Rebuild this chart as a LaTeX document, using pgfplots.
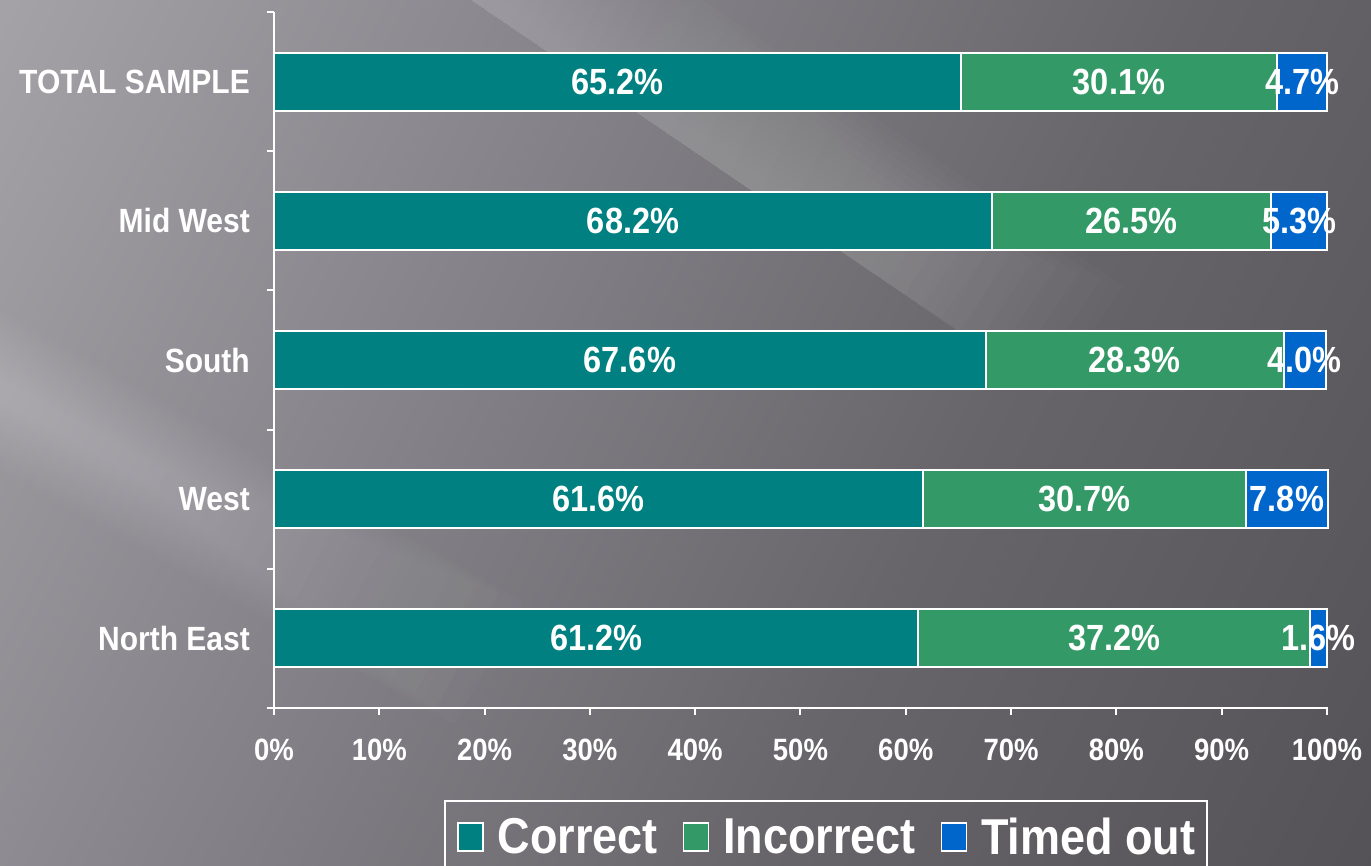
\documentclass[border=0pt]{standalone}
\usepackage{pgfplots}
\pgfplotsset{compat=1.18}
\usepackage{pgfplotstable}
\usepackage{graphicx}
\usepackage{fontspec}
\setmainfont{Liberation Sans}

\definecolor{cCorrect}{HTML}{008080}
\definecolor{cIncorrect}{HTML}{339966}
\definecolor{cTimed}{HTML}{0066CC}
\definecolor{bg0}{HTML}{A5A2A8}
\definecolor{bg1}{HTML}{858389}
\definecolor{bg2}{HTML}{67656A}
\definecolor{bg3}{HTML}{545257}
\pgfdeclarehorizontalshading{bgshade}{100bp}{color(0bp)=(bg0); color(16bp)=(bg0); color(39bp)=(bg1); color(61bp)=(bg2); color(84bp)=(bg3); color(100bp)=(bg3)}

\newcommand\vst[1]{\scalebox{1}[1.12]{#1}}

\pgfplotstableread{
y correct incorrect timed
0 61.2 37.2 1.6
1 61.6 30.7 7.8
2 67.6 28.3 4.0
3 68.2 26.5 5.3
4 65.2 30.1 4.7
}\data

\pgfplotsset{/pgf/number format/assume math mode=true}

\begin{document}
\begin{tikzpicture}
\shade[shading=bgshade, shading angle=-27] (0pt,0pt) rectangle (1371pt,866pt);
\begin{scope}
\clip (0pt,0pt) rectangle (1371pt,866pt);
% light diagonal streak (upper middle)
\begin{scope}[shift={(471pt,866pt)}, rotate=-34.2, x=1pt, y=1pt]
\foreach \k in {0,...,15}{
  \fill[white, fill opacity=0.016] (-300,0) rectangle ({700-22*\k},{130-7.5*\k});
}
\end{scope}
% light diagonal streak (left)
\begin{scope}[shift={(0pt,476pt)}, rotate=-29.2, x=1pt, y=1pt]
\foreach \k in {0,...,15}{
  \fill[white, fill opacity=0.014] (-100,{-(70-4*\k)}) rectangle ({560-25*\k},{70-4*\k});
}
\end{scope}
\end{scope}
\begin{axis}[
  scale only axis, width=1054pt, height=696pt,
  at={(274pt,158pt)}, anchor=south west,
  xbar stacked, bar width=58pt,
  clip=false,
  xmin=0, xmax=100.1, ymin=-0.5, ymax=4.5,
  axis x line*=bottom, axis y line*=left,
  axis line style={white, line width=2pt, -},
  tick align=outside,
  major tick length=7pt,
  tick style={white, line width=2pt},
  xtick={0,10,...,100},
  xticklabel={\vst{\pgfmathprintnumber{\tick}\%}},
  xticklabel style={white, anchor=north, inner sep=0pt, yshift=-24pt, font=\bfseries\fontsize{27.5}{30}\selectfont},
  ytick={-0.5,0.5,...,4.5},
  yticklabels={,,,,,},
  extra y ticks={0,1,2,3,4},
  extra y tick labels={\vst{North East},\vst{West},\vst{South},\vst{Mid West},\vst{TOTAL SAMPLE}},
  extra y tick style={major tick length=0pt},
  yticklabel style={white, anchor=east, inner sep=0pt, xshift=-24pt, font=\bfseries\fontsize{30}{33}\selectfont},
  point meta=explicit,
  nodes near coords={\vst{\pgfmathprintnumber[fixed,fixed zerofill,precision=1,assume math mode=true]{\pgfplotspointmeta}\%}},
  every node near coord/.style={white, font=\bfseries\fontsize{32.5}{35}\selectfont, anchor=center},
  legend columns=3,
  legend style={at={(0.1614,-0.1322)}, anchor=north west, draw=white, line width=2pt, fill=none, text=white,
    font=\bfseries\fontsize{45}{50}\selectfont, inner xsep=12pt, inner ysep=17pt,
    nodes={inner sep=0pt},
    /tikz/every odd column/.append style={column sep=14pt},
    /tikz/every even column/.append style={column sep=25pt}},
  legend image code/.code={\draw[#1, draw=white, line width=1.5pt] (0pt,-14pt) rectangle (25pt,14pt);},
]
\addplot[fill=cCorrect, draw=white, line width=2pt] table[x=correct, y=y, meta=correct] {\data};
\addlegendentry{\vst{Correct}}
\addplot[fill=cIncorrect, draw=white, line width=2pt] table[x=incorrect, y=y, meta=incorrect] {\data};
\addlegendentry{\vst{Incorrect}}
\addplot[fill=cTimed, draw=white, line width=2pt] table[x=timed, y=y, meta=timed] {\data};
\addlegendentry{\vst{Timed out}}
\end{axis}
\pgfresetboundingbox
\useasboundingbox (0pt,0pt) rectangle (1371pt,866pt);
\end{tikzpicture}
\end{document}
